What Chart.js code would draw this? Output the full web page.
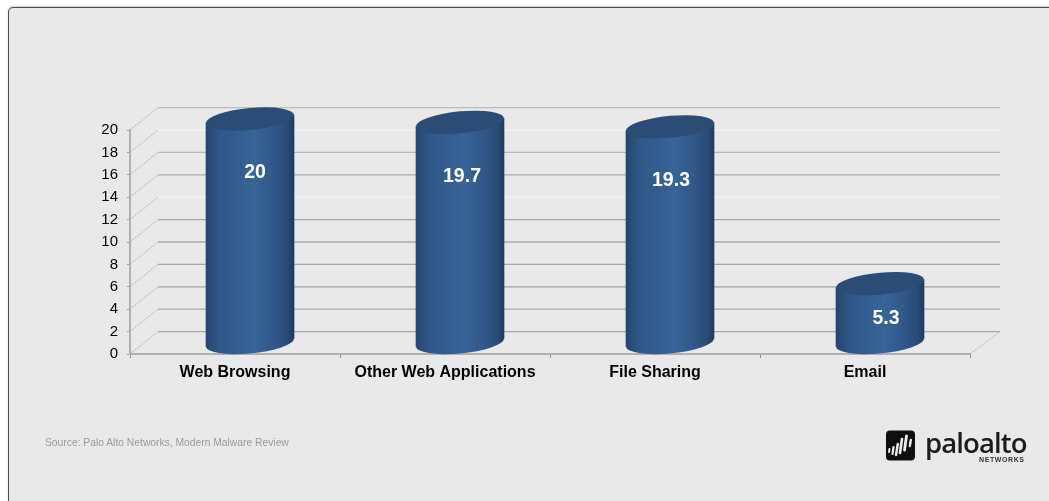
<!DOCTYPE html>
<html>
<head>
<meta charset="utf-8">
<title>Chart</title>
<script src="https://cdn.jsdelivr.net/npm/chart.js@4"></script>
<style>
    html, body { margin: 0; padding: 0; background: #fff; overflow: hidden; }
    #panel {
        position: absolute; left: 8px; top: 7px; width: 1060px; height: 520px;
        background: #e9e9e9; border: 1px solid #4a4a4a; border-radius: 5px;
        box-shadow: 0 -1px 2px rgba(0,0,0,0.2);
    }
    #myChart { position: absolute; left: 0; top: 0; }
    .txt { position: absolute; white-space: nowrap; font-family: "Liberation Sans", Arial, sans-serif; }
    #source { left: 45px; top: 437px; font-size: 10.3px; color: #9a9a9a; }
    #logoName { left: 925px; top: 424px; font-family: "Open Sans", sans-serif; font-size: 27.5px; font-weight: 600; letter-spacing: -0.9px; color: #1c1c1c; }
    #logoSub { left: 979px; top: 456px; font-size: 7px; letter-spacing: 0.6px; font-weight: bold; color: #333; }
    #logoIcon { position: absolute; left: 885px; top: 430px; }
</style>
</head>
<body>
<div id="panel"></div>
<canvas id="myChart" width="1049" height="501"></canvas>
<div class="txt" id="source">Source: Palo Alto Networks, Modern Malware Review</div>
<svg id="logoIcon" width="31" height="31" viewBox="0 0 31 31">
    <rect x="1" y="0.5" width="29" height="30" rx="4" fill="#0f0f0f"/>
    <g stroke="#f0f0f0" stroke-linecap="round" fill="none">
        <path d="M4.5 19 L4 22" stroke-width="2"/>
        <path d="M8.5 17 L7.5 24" stroke-width="2.2"/>
        <path d="M12.8 14 L11 25" stroke-width="2.4"/>
        <path d="M17 9 L15 23" stroke-width="2.6"/>
        <path d="M21.5 6 L19.5 20" stroke-width="2.8"/>
        <path d="M25.8 10 L24.8 16" stroke-width="2.4"/>
    </g>
</svg>
<div class="txt" id="logoName">paloalto</div>
<div class="txt" id="logoSub">NETWORKS</div>

<script>
const categorias = ['Web Browsing', 'Other Web Applications', 'File Sharing', 'Email'];
const valores = [20, 19.7, 19.3, 5.3];
const etiquetas = ['20', '19.7', '19.3', '5.3'];
const ticksY = [0, 2, 4, 6, 8, 10, 12, 14, 16, 18, 20];

// colour of each back wall line, same order as ticksY
const coloresPared = ['#a6a6a6', '#a8a8a8', '#a2a2a2', '#a8a8a8', '#8c8c8c', '#a6a6a6', '#f4f4f4', '#ababab', '#b6b6b6', '#f6f6f6', '#bcbcbc'];

// depth of the fake 3D box
const fondoX = 28;
const fondoY = -22.4;
// cylinders sit half way into the box
const cilX = 15;
const cilY = -11;
const radioElipse = 11;
const inclinacion = -0.09;

// where the value labels sit relative to the top of each cylinder
const etiquetaDx = [5, 2, 1, 6];
const etiquetaDy = [43, 43, 43, 24];

const plugin3d = {
    id: 'plugin3d',
    beforeDatasetsDraw(chart) {
        const ctx = chart.ctx;
        const area = chart.chartArea;
        const y = chart.scales.y;
        ctx.save();
        ticksY.forEach(function(t, i) {
            const py = y.getPixelForValue(t);
            ctx.strokeStyle = '#a8a8a8';
            ctx.lineWidth = 0.8;
            ctx.setLineDash([2, 1]);
            ctx.beginPath();
            ctx.moveTo(area.left, py);
            ctx.lineTo(area.left + fondoX, py + fondoY);
            ctx.stroke();
            ctx.setLineDash([]);
            ctx.strokeStyle = coloresPared[i];
            ctx.lineWidth = 1.2;
            ctx.beginPath();
            ctx.moveTo(area.left + fondoX, py + fondoY);
            ctx.lineTo(area.right + fondoX + 2, py + fondoY);
            ctx.stroke();
        });
        // floor edge on the right
        const y0 = y.getPixelForValue(0);
        ctx.strokeStyle = '#a8a8a8';
        ctx.lineWidth = 0.8;
        ctx.setLineDash([2, 1]);
        ctx.beginPath();
        ctx.moveTo(area.right, y0);
        ctx.lineTo(area.right + fondoX + 2, y0 + fondoY);
        ctx.stroke();
        ctx.restore();
    },
    beforeDatasetDraw(chart, args) {
        const ctx = chart.ctx;
        args.meta.data.forEach(function(bar) {
            const r = bar.width / 2;
            ctx.save();
            ctx.translate(bar.x + cilX, cilY);
            ctx.transform(1, inclinacion, 0, 1, 0, 0);
            ctx.translate(-bar.x, 0);
            ctx.fillStyle = bar.options.backgroundColor;
            ctx.beginPath();
            ctx.ellipse(bar.x, bar.base, r, radioElipse, 0, 0, Math.PI * 2);
            ctx.fill();
            bar.draw(ctx);
            ctx.fillStyle = '#2b4c77';
            ctx.beginPath();
            ctx.ellipse(bar.x, bar.y, r, radioElipse, 0, 0, Math.PI * 2);
            ctx.fill();
            ctx.restore();
        });
        return false;
    },
    afterDatasetsDraw(chart) {
        const ctx = chart.ctx;
        const meta = chart.getDatasetMeta(0);
        ctx.save();
        ctx.fillStyle = '#fff';
        ctx.font = 'bold 19.5px "Liberation Sans", Arial, sans-serif';
        ctx.textAlign = 'center';
        ctx.textBaseline = 'middle';
        meta.data.forEach(function(bar, i) {
            ctx.fillText(etiquetas[i], bar.x + cilX + etiquetaDx[i], bar.y + etiquetaDy[i]);
        });
        ctx.restore();
    }
};

function degradado(c) {
    const chart = c.chart;
    if (!chart.chartArea) return '#2f5a8c';
    const ancho = 88;
    const cx = chart.scales.x.getPixelForValue(c.dataIndex);
    const g = chart.ctx.createLinearGradient(cx - ancho / 2, 0, cx + ancho / 2, 0);
    g.addColorStop(0, '#26456e');
    g.addColorStop(0.15, '#2f5787');
    g.addColorStop(0.55, '#386499');
    g.addColorStop(0.8, '#2f5685');
    g.addColorStop(0.93, '#294a75');
    g.addColorStop(1, '#1f3a5d');
    return g;
}

new Chart(document.getElementById('myChart'), {
    type: 'bar',
    data: {
        labels: categorias,
        datasets: [{
            data: valores,
            backgroundColor: degradado,
            borderWidth: 0,
            barThickness: 88,
            clip: false
        }]
    },
    options: {
        responsive: false,
        animation: false,
        layout: { padding: { top: 130, right: 79 } },
        plugins: { legend: { display: false }, tooltip: { enabled: false } },
        scales: {
            x: {
                afterFit(scale) { scale.height = 147; },
                border: { color: '#b0b0b0', width: 2 },
                grid: { drawOnChartArea: false, color: '#8f8f8f', tickLength: 4 },
                ticks: {
                    color: '#000',
                    padding: 5,
                    maxRotation: 0,
                    font: { family: '"Liberation Sans", Arial, sans-serif', size: 16, weight: 'bold' }
                }
            },
            y: {
                min: 0,
                max: 20,
                afterFit(scale) { scale.width = 130; },
                afterBuildTicks(scale) { scale.ticks = ticksY.map(function(v) { return { value: v }; }); },
                border: { color: '#b0b0b0', width: 2 },
                grid: { drawOnChartArea: false, color: '#a0a0a0', tickLength: 3 },
                ticks: {
                    color: '#000',
                    padding: 9,
                    font: { family: '"Liberation Sans", Arial, sans-serif', size: 15 }
                }
            }
        }
    },
    plugins: [plugin3d]
});
</script>
</body>
</html>
